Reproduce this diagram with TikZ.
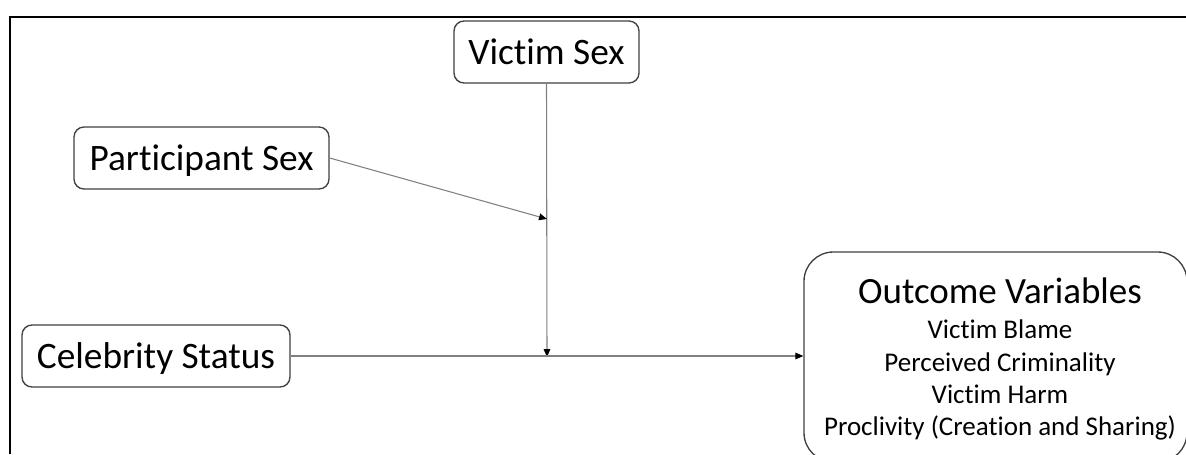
\documentclass[tikz,border=0pt]{standalone}
\usepackage{fontspec}
\setmainfont{Carlito}[Ligatures=NoCommon]
\usetikzlibrary{arrows.meta}
\begin{document}
\begin{tikzpicture}[x=0.75pt,y=-0.75pt,
  varbox/.style={draw=black!75, line width=1pt, rounded corners=7.5pt, fill=white,
    font=\fontsize{28}{32}\selectfont, inner sep=0pt, minimum height=46.5pt,
    text height=18pt, text depth=0pt},
  bigbox/.style={draw=black!75, line width=1pt, rounded corners=22pt, fill=white,
    inner sep=0pt, minimum width=287.25pt, minimum height=157.5pt},
  conn/.style={draw=black!50, line width=0.8pt, -{Triangle[length=6pt,width=5pt,color=black]}},
  title/.style={font=\fontsize{27.75}{32}\selectfont, anchor=base, inner sep=0pt},
  item/.style={font=\fontsize{20.25}{24}\selectfont, anchor=base, inner sep=0pt}]
\useasboundingbox (0,0) rectangle (1186,454);
\draw[line width=1.5pt] (10,454) -- (10,17) -- (1186,17);

\node[varbox, minimum width=138.75pt] (vs) at (546.5,52) {Victim Sex};
\node[varbox, minimum width=191.25pt] (ps) at (201.5,158) {Participant Sex};
\node[varbox, minimum width=201pt] (cs) at (156,356) {Celebrity Status};
\node[bigbox] (out) at (995.5,357) {};

\node[title] (t0) at (1000,303) {Outcome Variables};
\node[item] (t1) at (1000,338) {Victim Blame};
\node[item] (t2) at (1000,371) {Perceived Criminality};
\node[item] (t3) at (1000,403) {Victim Harm};
\node[item] (t4) at (1000,435) {Proclivity (Creation and Sharing)};

\coordinate (m) at (547,219);
\coordinate (j) at (547,357);

\draw[conn] (vs.south) -- (j);
\draw[conn] (ps.east) -- (m);
\draw[conn] (cs.east) -- (cs.east -| out.west);
\end{tikzpicture}
\end{document}
